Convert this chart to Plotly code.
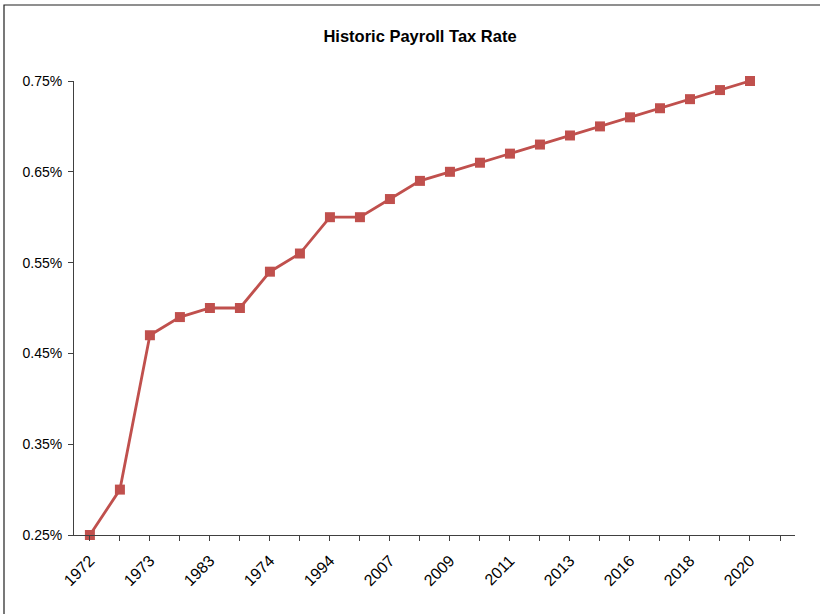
import plotly.graph_objects as go

years = ["1972", "1972", "1973", "1978", "1983", "1984", "1974", "1985", "1994", "2005",
         "2007", "2008", "2009", "2010", "2011", "2012", "2013", "2015", "2016", "2017",
         "2018", "2019", "2020"]
rates = [0.25, 0.30, 0.47, 0.49, 0.50, 0.50, 0.54, 0.56, 0.60, 0.60,
         0.62, 0.64, 0.65, 0.66, 0.67, 0.68, 0.69, 0.70, 0.71, 0.72,
         0.73, 0.74, 0.75]
ytick_vals = [0.25, 0.35, 0.45, 0.55, 0.65, 0.75]
ytick_text = ["0.25%", "0.35%", "0.45%", "0.55%", "0.65%", "0.75%"]

idx = list(range(len(years)))

fig = go.Figure()
fig.add_trace(go.Scatter(
    x=idx, y=rates, mode="lines+markers",
    line=dict(color="#C0504D", width=2.8),
    marker=dict(symbol="square", size=10, color="#C0504D"),
    cliponaxis=False, showlegend=False,
))

font = dict(family="Liberation Sans, Arial, sans-serif", size=14, color="black")
xfont = dict(family="Liberation Sans, Arial, sans-serif", size=16, color="black")

fig.update_layout(
    width=820, height=614,
    margin=dict(l=74, r=25, t=81, b=79),
    paper_bgcolor="white", plot_bgcolor="white",
    font=font,
    title=dict(text="<b>Historic Payroll Tax Rate</b>", x=420/820, xref="container",
               y=1-36/614, yref="container", xanchor="center", yanchor="middle",
               font=dict(family="Liberation Sans, Arial, sans-serif", size=16.5, color="black")),
    xaxis=dict(range=[-0.53, 23.5], tickmode="array",
               tickvals=list(range(0, 24)),
               ticktext=[years[i] if (i < len(years) and i % 2 == 0) else "" for i in range(24)],
               tickangle=-45, ticks="outside", ticklen=5, tickcolor="#404040",
               ticklabelstandoff=4,
               showline=True, linecolor="#404040", linewidth=1,
               showgrid=False, zeroline=False, tickfont=xfont),
    yaxis=dict(range=[0.25, 0.75], tickmode="array", tickvals=ytick_vals, ticktext=ytick_text,
               ticks="outside", ticklen=5, tickcolor="#404040",
               ticklabelstandoff=3,
               showline=True, linecolor="#404040", linewidth=1,
               showgrid=False, zeroline=False, tickfont=font),
    shapes=[dict(type="rect", xref="paper", yref="paper",
                 x0=(4-74)/721, x1=(830-74)/721, y0=-0.2, y1=(535-5)/454,
                 line=dict(color="#202020", width=1.2), layer="above")],
)

fig.write_html("out.html")
